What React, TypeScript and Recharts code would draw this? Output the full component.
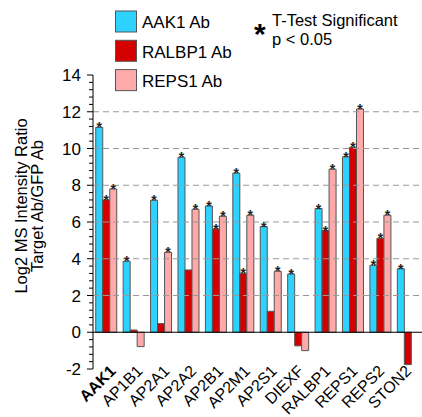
import { BarChart, Bar, XAxis, YAxis, ReferenceLine, LabelList } from "recharts";

const genes = ["AAK1", "AP1B1", "AP2A1", "AP2A2", "AP2B1", "AP2M1", "AP2S1", "DIEXF", "RALBP1", "REPS1", "REPS2", "STON2"];
const aak1Ab = [11.15, 3.86, 7.18, 9.52, 6.87, 8.66, 5.75, 3.17, 6.73, 9.55, 3.64, 3.46];
const ralbp1Ab = [7.2, 0.12, 0.47, 3.39, 5.62, 3.21, 1.14, -0.74, 5.53, 10.06, 5.11, -1.76];
const reps1Ab = [7.8, -0.78, 4.35, 6.69, 6.31, 6.37, 3.32, -1.0, 8.87, 12.15, 6.37, 0];
// 1 = t-test significant (p < 0.05)
const aak1Sig = [1, 1, 1, 1, 1, 1, 1, 1, 1, 1, 1, 1];
const ralbp1Sig = [1, 0, 0, 0, 1, 1, 0, 0, 1, 1, 1, 0];
const reps1Sig = [1, 0, 1, 1, 1, 1, 1, 0, 1, 1, 1, 0];
const yTickLabels = [-2, 0, 2, 4, 6, 8, 10, 12, 14];
const gridValues = [2, 4, 6, 8, 10, 12];

const series = [
  { key: "aak1", name: "AAK1 Ab", color: "#2dd2ff", sig: aak1Sig },
  { key: "ralbp1", name: "RALBP1 Ab", color: "#d40000", sig: ralbp1Sig },
  { key: "reps1", name: "REPS1 Ab", color: "#ffaaaa", sig: reps1Sig },
];

const data = genes.map((g, i) => ({
  gene: g,
  aak1: aak1Ab[i],
  ralbp1: ralbp1Ab[i],
  reps1: reps1Ab[i],
}));

// minor ticks every 0.4
const yTicks = Array.from({ length: 41 }, (_, k) => Number((-2 + 0.4 * k).toFixed(1)));

const FONT = "'Liberation Sans', Arial, sans-serif";
const AXIS_X = 93;

const YTick = (props: any) => {
  const { y, payload } = props;
  const v = payload.value;
  const major = yTickLabels.includes(v);
  return (
    <g>
      <line x1={AXIS_X - (major ? 6 : 4)} x2={AXIS_X} y1={y} y2={y} stroke="#000" strokeWidth={1} />
      {major && (
        <text x={AXIS_X - 12} y={y} dy={6} textAnchor="end" fontSize={17} fontFamily={FONT} fill="#000">
          {v}
        </text>
      )}
    </g>
  );
};

const XTick = (props: any) => {
  const { x, payload, index } = props;
  const ax = x + 10 - 0.55 * index;
  const ay = 372;
  return (
    <text
      x={ax}
      y={ay}
      textAnchor="end"
      transform={`rotate(-45 ${ax} ${ay})`}
      fontSize={16}
      fontFamily={FONT}
      fontWeight={payload.value === "AAK1" ? "bold" : "normal"}
      fill="#000"
    >
      {payload.value}
    </text>
  );
};

const starFor = (sig: number[]) => (props: any) => {
  const { x, y, width, height, index } = props;
  if (!sig[index] || height <= 0) return null;
  return (
    <text x={x + width / 2} y={y + 5} textAnchor="middle" fontSize={14} fontWeight="bold" fontFamily={FONT} fill="#222">
      *
    </text>
  );
};

export default function App() {
  return (
    <div style={{ position: "absolute", left: 0, top: 0, width: 422, height: 417, background: "#fff" }}>
      <BarChart
        width={422}
        height={417}
        data={data}
        margin={{ top: 75, right: 0, left: 0, bottom: 0 }}
        barCategoryGap="10%"
        barGap={0}
      >
        {gridValues.map((v) => (
          <ReferenceLine key={v} y={v} stroke="#999" strokeDasharray="6 4" />
        ))}
        <ReferenceLine y={0} stroke="#000" strokeWidth={1.2} />
        <XAxis dataKey="gene" axisLine={false} tickLine={false} height={48} interval={0} tick={<XTick />} />
        <YAxis
          width={93}
          domain={[-2, 14]}
          ticks={yTicks}
          interval={0}
          tickLine={false}
          axisLine={{ stroke: "#000" }}
          tick={<YTick />}
        />
        {series.map((s) => (
          <Bar key={s.key} dataKey={s.key} name={s.name} fill={s.color} stroke="#555" strokeWidth={1} isAnimationActive={false}>
            <LabelList dataKey={s.key} content={starFor(s.sig)} />
          </Bar>
        ))}
      </BarChart>
      <svg width={422} height={417} style={{ position: "absolute", left: 0, top: 0, pointerEvents: "none" }}>
        {series.map((s, i) => (
          <g key={s.key}>
            <rect x={115.5} y={11 + i * 29.3} width={21} height={21} fill={s.color} stroke="#555" strokeWidth={1} />
            <text x={142} y={28.3 + i * 29.5} fontSize={17} fontFamily={FONT} fill="#000">
              {s.name}
            </text>
          </g>
        ))}
        <text x={254} y={44} fontSize={30} fontWeight="bold" fontFamily={FONT} fill="#000">
          *
        </text>
        <text x={272} y={26} fontSize={16.5} fontFamily={FONT} fill="#000">
          T-Test Significant
        </text>
        <text x={272} y={45} fontSize={16.5} fontFamily={FONT} fill="#000">
          p &lt; 0.05
        </text>
        <text
          transform="translate(27 206) rotate(-90)"
          textAnchor="middle"
          fontSize={16.5}
          fontFamily={FONT}
          fill="#000"
        >
          Log2 MS Intensity Ratio
        </text>
        <text
          transform="translate(42.5 206) rotate(-90)"
          textAnchor="middle"
          fontSize={16.5}
          fontFamily={FONT}
          fill="#000"
        >
          Target Ab/GFP Ab
        </text>
      </svg>
    </div>
  );
}
